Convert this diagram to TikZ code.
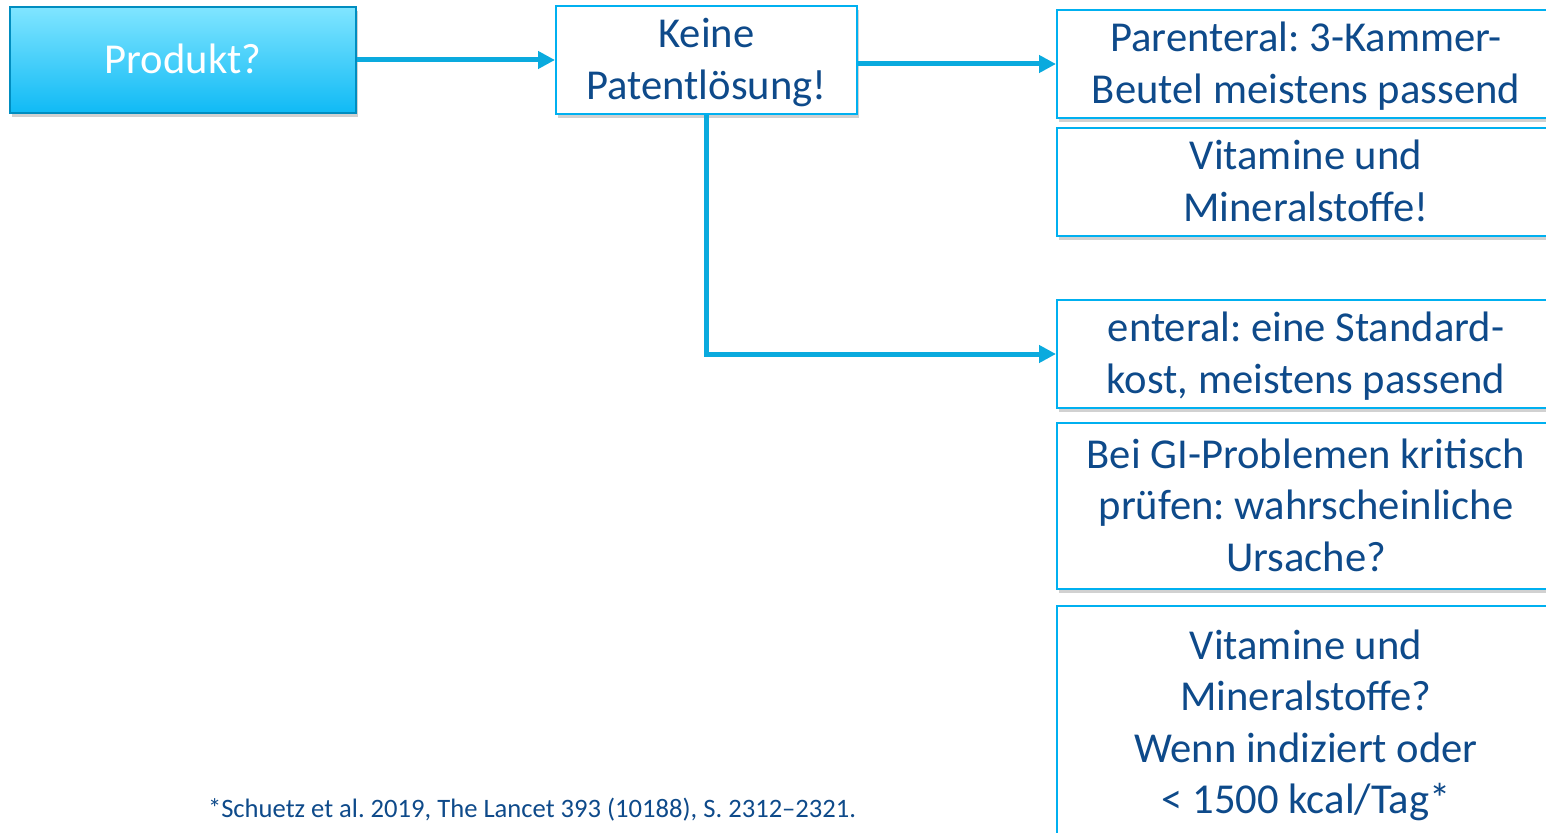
\documentclass[tikz,border=0pt]{standalone}
\usepackage{fontspec}
\setmainfont{Carlito}
\frenchspacing
\usetikzlibrary{arrows.meta,shadows}
\definecolor{boxblue}{RGB}{0,176,240}
\definecolor{lineblue}{RGB}{10,170,222}
\definecolor{textblue}{RGB}{14,74,138}
\definecolor{topcyan}{RGB}{128,229,255}
\definecolor{botcyan}{RGB}{16,186,245}
\tikzset{every picture/.style={line width=2pt}}
\tikzset{
  boxshadow/.style={drop shadow={shadow xshift=2pt,shadow yshift=-4pt,opacity=0.3,fill=black!60}},
  outbox/.style={draw=boxblue,fill=white,line width=2pt,align=center,text=textblue,inner sep=0pt,
    text depth=10pt,font=\fontsize{42.6}{51.5}\selectfont,boxshadow},
  onerow/.style={text height=37pt},
  tworows/.style={text height=88.5pt},
  threerows/.style={text height=140pt},
  fourrows/.style={text height=191.5pt},
  flowarrow/.style={draw=lineblue,line width=5pt,-{Triangle[length=17pt,width=17pt]}}
}

\begin{document}
\begin{tikzpicture}[x=1pt,y=1pt,yscale=-1,xscale=1]
\useasboundingbox (0,0) rectangle (1546,832);

%Shape: Rectangle, start
\node [outbox,onerow,draw=boxblue!80!black,top color=topcyan,bottom color=botcyan,text=white,
  minimum width=346pt,minimum height=106pt] (produkt) at (183,60) {Produkt?};
%Shape: Rectangle, middle
\node [outbox,tworows,minimum width=301pt,minimum height=108pt] (keine) at (706.5,60) {Keine\\Patentlösung!};

%Shape: Rectangle, parenteral column
\node [outbox,tworows,minimum width=498pt,minimum height=108pt] (paren) at (1306,64) {Parenteral: 3-Kammer-\\Beutel meistens passend};
\node [outbox,tworows,minimum width=498pt,minimum height=108pt] (vitpar) at (1306,182) {Vitamine und\\Mineralstoffe!};

%Shape: Rectangle, enteral column
\node [outbox,tworows,minimum width=498pt,minimum height=108pt] (enteral) at (1306,354) {enteral: eine Standard-\\kost, meistens passend};
\node [outbox,threerows,minimum width=498pt,minimum height=166pt] (gi) at (1306,506) {Bei GI-Problemen kritisch\\prüfen: wahrscheinliche\\Ursache?};
\node [outbox,fourrows,minimum width=498pt,minimum height=234pt] (vitent) at (1306,723) {Vitamine und\\Mineralstoffe?\\Wenn indiziert oder\\< 1500 kcal/Tag*};

%Straight Lines
\draw [flowarrow] (produkt.east) -- (keine.west);
%Straight Lines
\draw [flowarrow] (keine.east |- paren.west) -- (paren.west);
%Straight Lines
\draw [flowarrow] (keine.south) |- (enteral.west);

% Text Node
\node [anchor=base west,inner sep=0pt,text=textblue,font=\fontsize{26.6}{32}\selectfont] (quelle) at (207,817) {*Schuetz et al. 2019, The Lancet 393 (10188), S. 2312–2321.};

\end{tikzpicture}
\end{document}
